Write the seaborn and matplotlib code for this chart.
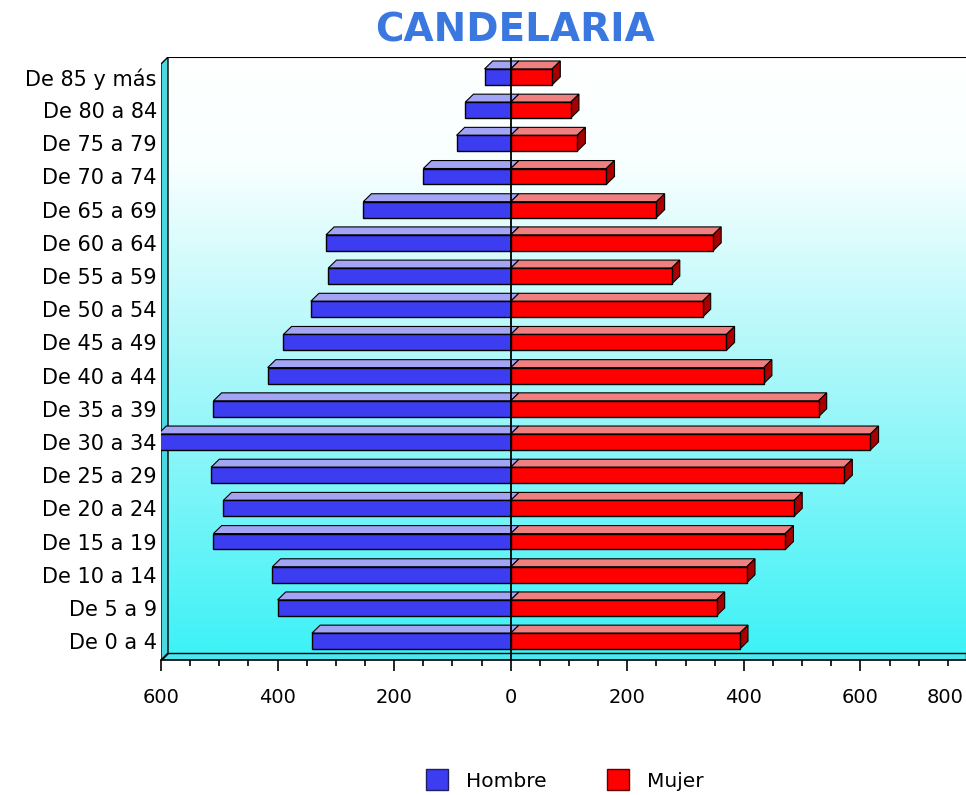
import pandas as pd
import seaborn as sns
import matplotlib.pyplot as plt
from matplotlib.colors import LinearSegmentedColormap
from matplotlib.patches import Patch, Polygon
from matplotlib.ticker import MultipleLocator
import numpy as np

edades = ["De 85 y más", "De 80 a 84", "De 75 a 79", "De 70 a 74", "De 65 a 69",
          "De 60 a 64", "De 55 a 59", "De 50 a 54", "De 45 a 49", "De 40 a 44",
          "De 35 a 39", "De 30 a 34", "De 25 a 29", "De 20 a 24", "De 15 a 19",
          "De 10 a 14", "De 5 a 9", "De 0 a 4"]
hombres = [45, 78, 93, 150, 253, 317, 313, 343, 390, 417, 510, 605, 514, 493, 510, 409, 400, 341]
mujeres = [71, 103, 114, 164, 250, 347, 276, 329, 370, 434, 528, 617, 572, 486, 471, 405, 353, 393]
ticks_x = [-600, -400, -200, 0, 200, 400, 600, 800]

azul, azul_claro = "#3c3cf0", "#a4a4f4"
rojo, rojo_claro, rojo_oscuro = "#ff0000", "#f08080", "#a80000"

df = pd.DataFrame({
    "edad": edades * 2,
    "valor": [-h for h in hombres] + mujeres,
    "sexo": ["Hombre"] * len(edades) + ["Mujer"] * len(edades),
})

fig = plt.figure(figsize=(9.66, 7.95), dpi=100)
ax = fig.add_axes([161 / 966, 1 - 660 / 795, (966 - 161) / 966, (660 - 57) / 795])

# fondo con efecto 3d: pared trasera degradada, pared izquierda y suelo
wx, wy = 7 / 805, 7 / 603
cmap = LinearSegmentedColormap.from_list(
    "fondo", [(0, "#ffffff"), (0.18, "#f8ffff"), (0.5, "#b0f8fa"), (1, "#3ef2f6")])
grad = np.linspace(0, 1, 256).reshape(-1, 1)
ax.imshow(grad, extent=[wx, 1, wy, 1], transform=ax.transAxes, aspect="auto",
          cmap=cmap, origin="upper", zorder=0)
ax.add_patch(Polygon([(0, 0), (wx, wy), (wx, 1), (0, 1 - wy)], closed=True,
                     transform=ax.transAxes, facecolor="#4cd8e0", edgecolor="black",
                     lw=1, zorder=1))
ax.add_patch(Polygon([(0, 0), (1, 0), (1, wy), (wx, wy)], closed=True,
                     transform=ax.transAxes, facecolor="#4ce8f0", edgecolor="black",
                     lw=1, zorder=1))
ax.plot([wx, 1], [1, 1], color="black", lw=1.5, transform=ax.transAxes, zorder=1)

alto = 0.48
dx, dy = 14, 0.24

# caras superiores y laterales de las barras
for i, (h, m) in enumerate(zip(hombres, mujeres)):
    y0 = i - alto / 2
    ax.add_patch(Polygon([(-h, y0), (0, y0), (dx, y0 - dy), (-h + dx, y0 - dy)],
                         facecolor=azul_claro, edgecolor="black", lw=0.8, zorder=2.5))
    ax.add_patch(Polygon([(0, y0), (m, y0), (m + dx, y0 - dy), (dx, y0 - dy)],
                         facecolor=rojo_claro, edgecolor="black", lw=0.8, zorder=2.6))
    ax.add_patch(Polygon([(m, y0), (m, y0 + alto), (m + dx, y0 + alto - dy), (m + dx, y0 - dy)],
                         facecolor=rojo_oscuro, edgecolor="black", lw=0.8, zorder=2.6))

sns.barplot(data=df, x="valor", y="edad", hue="sexo", order=edades,
            palette={"Hombre": azul, "Mujer": rojo}, dodge=False, width=alto,
            saturation=1, edgecolor="black", linewidth=1, errorbar=None,
            legend=False, ax=ax, zorder=3)

ax.axvline(0, color="black", lw=1.3, zorder=4)

ax.set_xlim(-600, 781)
ax.set_ylim(len(edades) - 0.43, -0.6)
ax.set_xticks(ticks_x[:-1])
ax.set_xticklabels([str(abs(t)) for t in ticks_x[:-1]])
ax.xaxis.set_minor_locator(MultipleLocator(50))
ax.tick_params(axis="x", which="major", length=8, width=1.2, pad=12, labelsize=14)
ax.tick_params(axis="x", which="minor", length=4.5, width=1.2)
ax.tick_params(axis="y", length=0, pad=3, labelsize=15)
ax.annotate(str(ticks_x[-1]), xy=(1, 0), xycoords="axes fraction", xytext=(-2, -20),
            textcoords="offset points", ha="right", va="top", fontsize=14)
ax.set_xlabel("")
ax.set_ylabel("")
for s in ["top", "right", "left"]:
    ax.spines[s].set_visible(False)
ax.spines["bottom"].set_linewidth(1.2)

fig.text(515 / 966, 1 - 30 / 795, "CANDELARIA", ha="center", va="center",
         fontsize=28, fontweight="bold", color="#3a78e0")

handles = [Patch(facecolor=azul, edgecolor="#202060"), Patch(facecolor=rojo, edgecolor="#600000")]
fig.legend(handles=handles, labels=["Hombre", "Mujer"], loc="center",
           bbox_to_anchor=(565 / 966, 1 - 780 / 795), ncol=2, frameon=False, fontsize=14.5,
           handlelength=1.1, handleheight=1.2, handletextpad=0.9, columnspacing=3.0)

fig.savefig("out.png", dpi=100)
